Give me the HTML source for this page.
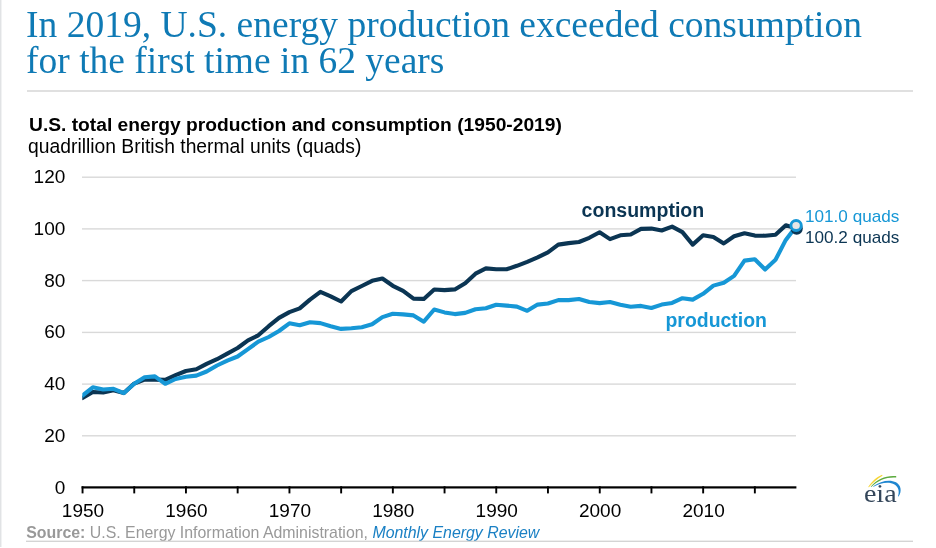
<!DOCTYPE html>
<html><head><meta charset="utf-8"><title>U.S. energy production and consumption</title>
<style>
html,body{margin:0;padding:0;background:#fff;}
body{width:936px;height:548px;overflow:hidden;}
svg{display:block;}
.ser{font-family:"Liberation Serif",serif;}
.san{font-family:"Liberation Sans",sans-serif;}
</style></head><body>
<svg width="936" height="548" viewBox="0 0 936 548">
<rect width="936" height="548" fill="#fff"/>
<rect x="0" y="0" width="1" height="547" fill="#e1e3e5"/><rect x="1" y="0" width="1" height="547" fill="#f1f2f3"/>
<text class="ser" x="26.1" y="36.6" font-size="37.53" fill="#0f7ab5">In 2019, U.S. energy production exceeded consumption</text>
<text class="ser" x="26.1" y="72.8" font-size="37.48" fill="#0f7ab5">for the first time in 62 years</text>
<rect x="27" y="90.2" width="886" height="1.6" fill="#d9d9d9"/>
<text class="san" transform="translate(29.0,131.4) scale(1.0,1)" font-size="19.23" font-weight="bold" font-style="normal" fill="#000" text-anchor="start">U.S. total energy production and consumption (1950-2019)</text>
<text class="san" transform="translate(28.1,153.2) scale(1.0,1)" font-size="19.29" font-weight="normal" font-style="normal" fill="#000" text-anchor="start">quadrillion British thermal units (quads)</text>
<rect x="82" y="435.1" width="714" height="1.4" fill="#d9d9d9"/>
<rect x="82" y="383.4" width="714" height="1.4" fill="#d9d9d9"/>
<rect x="82" y="331.7" width="714" height="1.4" fill="#d9d9d9"/>
<rect x="82" y="279.9" width="714" height="1.4" fill="#d9d9d9"/>
<rect x="82" y="228.2" width="714" height="1.4" fill="#d9d9d9"/>
<rect x="82" y="176.5" width="714" height="1.4" fill="#d9d9d9"/>
<text class="san" transform="translate(65.3,493.6) scale(1.0,1)" font-size="19" font-weight="normal" font-style="normal" fill="#000" text-anchor="end">0</text>
<text class="san" transform="translate(65.3,441.8) scale(1.0,1)" font-size="19" font-weight="normal" font-style="normal" fill="#000" text-anchor="end">20</text>
<text class="san" transform="translate(65.3,390.1) scale(1.0,1)" font-size="19" font-weight="normal" font-style="normal" fill="#000" text-anchor="end">40</text>
<text class="san" transform="translate(65.3,338.4) scale(1.0,1)" font-size="19" font-weight="normal" font-style="normal" fill="#000" text-anchor="end">60</text>
<text class="san" transform="translate(65.3,286.6) scale(1.0,1)" font-size="19" font-weight="normal" font-style="normal" fill="#000" text-anchor="end">80</text>
<text class="san" transform="translate(65.3,234.9) scale(1.0,1)" font-size="19" font-weight="normal" font-style="normal" fill="#000" text-anchor="end">100</text>
<text class="san" transform="translate(65.3,183.2) scale(1.0,1)" font-size="19" font-weight="normal" font-style="normal" fill="#000" text-anchor="end">120</text>
<clipPath id="pc"><rect x="82.3" y="160" width="760" height="340"/></clipPath>
<polyline clip-path="url(#pc)" points="82.5,398.1 92.8,392.0 103.2,392.5 113.5,390.2 123.9,392.9 134.2,383.6 144.6,379.6 154.9,379.6 165.2,379.9 175.6,375.2 185.9,371.0 196.3,369.3 206.6,363.9 217.0,359.2 227.3,353.6 237.6,348.0 248.0,340.3 258.3,335.3 268.7,326.2 279.0,317.9 289.4,312.1 299.7,308.4 310.0,299.6 320.4,291.9 330.7,296.3 341.1,301.5 351.4,291.1 361.8,286.0 372.1,280.8 382.4,278.5 392.8,285.8 403.1,290.8 413.5,298.6 423.8,298.9 434.2,289.5 444.5,290.1 454.8,289.4 465.2,283.2 475.5,273.7 485.9,268.4 496.2,269.2 506.6,269.3 516.9,265.8 527.2,261.8 537.6,257.4 547.9,252.4 558.3,244.6 568.6,243.1 579.0,242.0 589.3,237.8 599.6,232.3 610.0,239.1 620.3,235.3 630.7,234.5 641.0,228.9 651.4,228.6 661.7,230.5 672.1,226.6 682.4,232.1 692.7,244.6 703.1,235.3 713.4,237.0 723.8,243.4 734.1,236.3 744.5,233.3 754.8,235.6 765.1,235.7 775.5,234.8 785.8,225.3 796.2,228.4" fill="none" stroke="#0b3553" stroke-width="4.1" stroke-linejoin="round" stroke-linecap="round"/>
<polyline clip-path="url(#pc)" points="82.5,395.6 92.8,387.3 103.2,389.5 113.5,388.8 123.9,393.1 134.2,383.7 144.6,377.3 154.9,376.4 165.2,383.8 175.6,379.0 185.9,376.8 196.3,375.6 206.6,371.5 217.0,365.5 227.3,360.7 237.6,356.5 248.0,349.1 258.3,341.7 268.7,337.0 279.0,331.0 289.4,323.3 299.7,325.3 310.0,322.2 320.4,323.1 330.7,326.2 341.1,328.9 351.4,328.3 361.8,327.2 372.1,324.3 382.4,317.1 392.8,313.8 403.1,314.4 413.5,315.4 423.8,321.7 434.2,309.5 444.5,312.4 454.8,314.1 465.2,312.9 475.5,309.3 485.9,308.3 496.2,304.7 506.6,305.6 516.9,306.6 527.2,310.8 537.6,304.6 547.9,303.5 558.3,300.1 568.6,300.1 579.0,299.0 589.3,302.0 599.6,303.1 610.0,302.0 620.3,304.7 630.7,306.7 641.0,305.9 651.4,308.0 661.7,304.6 672.1,302.9 682.4,298.2 692.7,299.6 703.1,293.8 713.4,285.6 723.8,282.7 734.1,275.9 744.5,260.6 754.8,259.2 765.1,269.5 775.5,259.8 785.8,239.9 796.2,226.3" fill="none" stroke="#1697d6" stroke-width="4.1" stroke-linejoin="round" stroke-linecap="round"/>
<ellipse cx="796.7" cy="228.6" rx="6.1" ry="6.1" fill="#0b3553"/>
<ellipse cx="796.1" cy="225.5" rx="5.2" ry="5.0" fill="#e6e6e6" stroke="#1697d6" stroke-width="2.9"/>
<rect x="81.6" y="486.3" width="714.8" height="2.2" fill="#000"/>
<rect x="81.6" y="486.3" width="1.9" height="7.1" fill="#000"/>
<rect x="133.3" y="486.3" width="1.9" height="7.1" fill="#000"/>
<rect x="185.0" y="486.3" width="1.9" height="7.1" fill="#000"/>
<rect x="236.7" y="486.3" width="1.9" height="7.1" fill="#000"/>
<rect x="288.5" y="486.3" width="1.9" height="7.1" fill="#000"/>
<rect x="340.2" y="486.3" width="1.9" height="7.1" fill="#000"/>
<rect x="391.9" y="486.3" width="1.9" height="7.1" fill="#000"/>
<rect x="443.6" y="486.3" width="1.9" height="7.1" fill="#000"/>
<rect x="495.3" y="486.3" width="1.9" height="7.1" fill="#000"/>
<rect x="547.0" y="486.3" width="1.9" height="7.1" fill="#000"/>
<rect x="598.8" y="486.3" width="1.9" height="7.1" fill="#000"/>
<rect x="650.5" y="486.3" width="1.9" height="7.1" fill="#000"/>
<rect x="702.2" y="486.3" width="1.9" height="7.1" fill="#000"/>
<rect x="753.9" y="486.3" width="1.9" height="7.1" fill="#000"/>
<text class="san" transform="translate(83.0,517.3) scale(1.0,1)" font-size="19" font-weight="normal" font-style="normal" fill="#000" text-anchor="middle">1950</text>
<text class="san" transform="translate(186.4,517.3) scale(1.0,1)" font-size="19" font-weight="normal" font-style="normal" fill="#000" text-anchor="middle">1960</text>
<text class="san" transform="translate(289.9,517.3) scale(1.0,1)" font-size="19" font-weight="normal" font-style="normal" fill="#000" text-anchor="middle">1970</text>
<text class="san" transform="translate(393.3,517.3) scale(1.0,1)" font-size="19" font-weight="normal" font-style="normal" fill="#000" text-anchor="middle">1980</text>
<text class="san" transform="translate(496.7,517.3) scale(1.0,1)" font-size="19" font-weight="normal" font-style="normal" fill="#000" text-anchor="middle">1990</text>
<text class="san" transform="translate(600.1,517.3) scale(1.0,1)" font-size="19" font-weight="normal" font-style="normal" fill="#000" text-anchor="middle">2000</text>
<text class="san" transform="translate(703.6,517.3) scale(1.0,1)" font-size="19" font-weight="normal" font-style="normal" fill="#000" text-anchor="middle">2010</text>
<text class="san" transform="translate(581.6,217.3) scale(1.0,1)" font-size="19.55" font-weight="bold" font-style="normal" fill="#0b3553" text-anchor="start">consumption</text>
<text class="san" transform="translate(665.5,327.2) scale(1.0,1)" font-size="19.45" font-weight="bold" font-style="normal" fill="#1697d6" text-anchor="start">production</text>
<text class="san" transform="translate(805.0,222.3) scale(1.0,1)" font-size="17.15" font-weight="normal" font-style="normal" fill="#1697d6" text-anchor="start">101.0 quads</text>
<text class="san" transform="translate(805.0,243.0) scale(1.0,1)" font-size="17.15" font-weight="normal" font-style="normal" fill="#0b3553" text-anchor="start">100.2 quads</text>
<text class="san" x="26.2" y="537.8" font-size="15.9" fill="#999"><tspan font-weight="bold">Source:</tspan> U.S. Energy Information Administration, <tspan font-style="italic" fill="#1a80c4">Monthly Energy Review</tspan></text>
<rect x="26" y="540.6" width="887" height="1.4" fill="#d4d4d4"/>
<g>
<path d="M868.2 487 C871.8 481.4 876.8 476.9 882.1 474.8 L882.5 475.8 C877.6 478.5 873.2 482.3 868.9 487.2 Z" fill="#f6d535"/>
<path d="M870.7 486.7 C877.2 478.6 886.6 475.1 896.2 476.1 L896.2 477.6 C887 476.9 878.6 480 871.3 486.9 Z" fill="#5cab3e"/>
<path d="M873.2 486.3 C880.8 480.4 890.5 479.2 896 482.3 C901 485.3 902.2 491 898.6 496.6 L898 496.3 C899.7 491.5 898.5 487.3 894.5 484.6 C889.7 481.7 881.6 482.2 873.6 486.7 Z" fill="#1f86d0"/>
<text class="ser" transform="translate(863.9,502.0) scale(1.07,1)" font-size="26.2" fill="#34465a">eia</text>
</g>
</svg>
</body></html>
